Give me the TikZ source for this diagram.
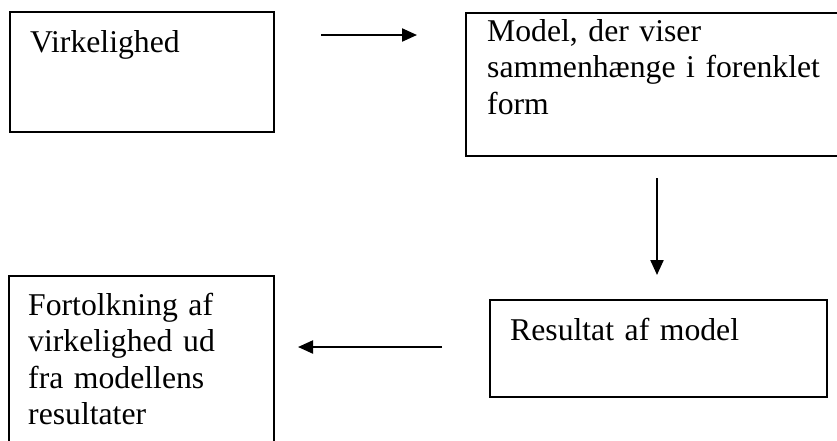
\documentclass[tikz,border=0pt]{standalone}
\usepackage{fontspec}
\setmainfont{Liberation Serif}
\usetikzlibrary{arrows.meta}
\begin{document}
\begin{tikzpicture}[x=1pt,y=-1pt,
  box/.style={draw, line width=2pt, rectangle, inner sep=0pt, anchor=north west},
  txt/.style={inner sep=0pt, anchor=base west, text width=340pt, align=left,
              font=\fontsize{31.7}{36.6}\selectfont},
  arr/.style={line width=2.2pt, -{Triangle[length=15pt,width=13pt]}}]
\useasboundingbox (0,0) rectangle (837,440);
\clip (0,0) rectangle (837,440);
% boxes (b2 and b4 run past the picture's edge, as in the reference)
\node[box, minimum width=264.5pt, minimum height=120pt] (b1) at (8.5,11) {};
\node[box, minimum width=400pt, minimum height=143pt] (b2) at (465,12) {};
\node[box, minimum width=337pt, minimum height=97pt] (b3) at (489,299) {};
\node[box, minimum width=265pt, minimum height=200pt] (b4) at (8,275) {};
% texts
\node[txt] (t1) at (30,52) {Virkelighed};
\node[txt] (t2) at (487,41) {Model, der viser\\sammenhænge i forenklet\\form};
\node[txt] (t3) at (510,340) {Resultat af model};
\node[txt] (t4) at (28,315) {Fortolkning af\\virkelighed ud\\fra modellens\\resultater};
% arrows
\coordinate (a1s) at (321,35);  \coordinate (a1e) at (417,35);
\coordinate (a2s) at (657,178); \coordinate (a2e) at (657,275);
\coordinate (a3s) at (442,347); \coordinate (a3e) at (298,347);
\draw[arr] (a1s) -- (a1e);
\draw[arr] (a2s) -- (a2e);
\draw[arr] (a3s) -- (a3e);
\end{tikzpicture}
\end{document}
